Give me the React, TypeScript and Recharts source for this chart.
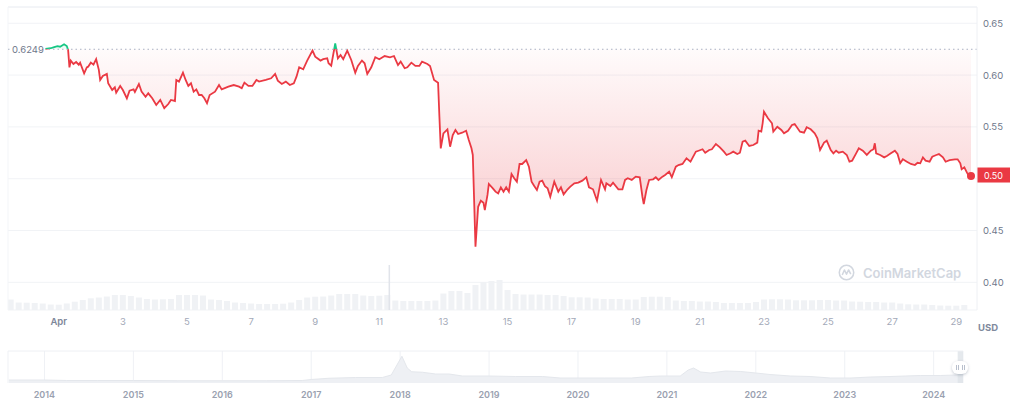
import React from 'react';
import {
  ComposedChart,
  Area,
  Bar,
  XAxis,
  YAxis,
  CartesianGrid,
  ReferenceLine,
  ReferenceDot,
  ReferenceArea,
} from 'recharts';

const RED = '#ea3943';
const GREEN = '#16c784';

// price at the start of the window (dotted baseline)
const openPrice = 0.6249;

// main chart: x is hours since Apr 1 00:00
const hourDomain: [number, number] = [-38, 687.5];
const priceDomain: [number, number] = [0.3733, 0.6657];
const priceTicks = [0.4, 0.45, 0.5, 0.55, 0.6, 0.65];
const dayTicks = [0, 48, 96, 144, 192, 240, 288, 336, 384, 432, 480, 528, 576, 624, 672];
const dayLabels = ['Apr', '3', '5', '7', '9', '11', '13', '15', '17', '19', '21', '23', '25', '27', '29'];

// [hour, price]
const pricePoints: [number, number][] = [
  [-10, 0.6252], [-6, 0.6259], [-4, 0.6268], [-1, 0.628], [1, 0.6274], [4, 0.6297], [6, 0.628], [7, 0.6242],
  [8, 0.6075], [9, 0.614], [11, 0.6107], [13, 0.6126], [15, 0.61], [16, 0.612], [19, 0.6017], [21, 0.6075],
  [22, 0.6081], [24, 0.612], [26, 0.61], [28, 0.6153], [30, 0.605], [31, 0.5953], [33, 0.5991], [36, 0.6011],
  [37, 0.5921], [40, 0.5856], [42, 0.5882], [43, 0.583], [46, 0.5895], [48, 0.5856], [51, 0.5776], [53, 0.5849],
  [56, 0.5862], [57, 0.5837], [60, 0.5914], [62, 0.584], [65, 0.5791], [67, 0.5824], [70, 0.5776], [73, 0.5711],
  [76, 0.576], [79, 0.568], [82, 0.5721], [84, 0.576], [87, 0.575], [88, 0.5953], [90, 0.5937], [93, 0.6023],
  [95, 0.5953], [97, 0.5895], [99, 0.5921], [101, 0.584], [103, 0.5862], [105, 0.5808], [107, 0.5808], [109, 0.5776],
  [111, 0.5728], [113, 0.5808], [117, 0.584], [120, 0.5904], [122, 0.5862], [127, 0.5888], [131, 0.5904], [135, 0.5888],
  [137, 0.5873], [139, 0.5927], [142, 0.5895], [145, 0.5895], [148, 0.5953], [150, 0.5937], [155, 0.5953], [159, 0.5969],
  [162, 0.6011], [164, 0.5946], [167, 0.5914], [170, 0.5937], [173, 0.5904], [176, 0.5921], [178, 0.5985], [180, 0.6075],
  [183, 0.6056], [186, 0.614], [190, 0.6236], [192, 0.6178], [196, 0.614], [198, 0.6153], [201, 0.6162], [202, 0.6114],
  [204, 0.609], [207, 0.6305], [209, 0.6162], [211, 0.6194], [213, 0.6153], [216, 0.6236], [219, 0.6146], [222, 0.6023],
  [224, 0.6088], [227, 0.614], [229, 0.6114], [231, 0.6011], [234, 0.6075], [237, 0.6172], [240, 0.6153], [244, 0.6184],
  [248, 0.6172], [251, 0.6184], [254, 0.6097], [256, 0.613], [259, 0.6066], [261, 0.6075], [264, 0.612], [267, 0.6088],
  [270, 0.6088], [272, 0.613], [276, 0.6107], [278, 0.6088], [281, 0.5953], [284, 0.5927], [285, 0.5598], [286, 0.5293],
  [288, 0.5438], [291, 0.5477], [293, 0.5309], [295, 0.5422], [297, 0.547], [299, 0.5431], [302, 0.5444], [305, 0.5463],
  [307, 0.5374], [309, 0.5293], [310, 0.5229], [312, 0.4344], [314, 0.4729], [316, 0.4788], [318, 0.4768], [319, 0.4698],
  [321, 0.4843], [322, 0.4949], [325, 0.4907], [327, 0.4875], [329, 0.4859], [331, 0.4917], [333, 0.4875], [335, 0.4917],
  [337, 0.4875], [339, 0.5045], [341, 0.5004], [343, 0.4971], [345, 0.5142], [347, 0.5142], [350, 0.518], [352, 0.5116],
  [354, 0.4971], [356, 0.4929], [358, 0.4891], [360, 0.4971], [362, 0.4981], [364, 0.4929], [366, 0.4907], [368, 0.4826],
  [371, 0.4971], [374, 0.4875], [376, 0.4917], [378, 0.4849], [381, 0.4898], [383, 0.4923], [386, 0.4956], [389, 0.4962],
  [392, 0.4981], [395, 0.5014], [397, 0.4917], [400, 0.4898], [403, 0.4788], [406, 0.4988], [409, 0.4898], [410, 0.4956],
  [413, 0.4929], [415, 0.4962], [419, 0.4898], [422, 0.4898], [424, 0.4988], [426, 0.5004], [429, 0.4988], [432, 0.502],
  [435, 0.5014], [437, 0.4826], [438, 0.4756], [440, 0.4891], [442, 0.4988], [445, 0.4994], [447, 0.5014], [449, 0.4988],
  [452, 0.502], [454, 0.5036], [457, 0.5068], [459, 0.5014], [462, 0.5116], [464, 0.5132], [467, 0.5142], [470, 0.5197],
  [473, 0.5164], [477, 0.5261], [479, 0.527], [482, 0.5284], [484, 0.5251], [487, 0.5277], [489, 0.5284], [492, 0.5335],
  [495, 0.5303], [498, 0.5261], [500, 0.5229], [503, 0.5245], [505, 0.5261], [508, 0.5238], [510, 0.5251], [512, 0.5357],
  [514, 0.5367], [517, 0.5316], [520, 0.5325], [523, 0.5348], [524, 0.5463], [526, 0.5454], [527, 0.5535], [528, 0.5647],
  [531, 0.5583], [534, 0.5535], [535, 0.5454], [538, 0.5502], [541, 0.547], [543, 0.5438], [546, 0.5463], [549, 0.5518],
  [551, 0.5528], [555, 0.5454], [558, 0.5444], [560, 0.5496], [563, 0.5477], [566, 0.5438], [568, 0.539], [570, 0.5277],
  [573, 0.5348], [575, 0.5367], [578, 0.5277], [580, 0.5245], [582, 0.527], [584, 0.5251], [587, 0.5261], [590, 0.5229],
  [592, 0.5164], [594, 0.5174], [597, 0.5245], [599, 0.5293], [602, 0.527], [605, 0.5229], [608, 0.527], [610, 0.5284],
  [611, 0.5342], [612, 0.5245], [615, 0.5229], [618, 0.5206], [620, 0.5219], [623, 0.5245], [626, 0.527], [628, 0.5238],
  [630, 0.5149], [632, 0.5187], [635, 0.5164], [638, 0.5142], [641, 0.5132], [643, 0.5154], [645, 0.5149], [647, 0.5206],
  [649, 0.5174], [652, 0.5164], [654, 0.5212], [657, 0.5229], [659, 0.5238], [662, 0.5206], [664, 0.5164], [667, 0.518],
  [671, 0.5187], [673, 0.5187], [675, 0.5149], [676, 0.5091], [678, 0.511], [680, 0.5058], [681, 0.5036], [683, 0.5026],
];

// volume, one bar every 6 hours starting at hour -36 (relative units)
const volumeStartHour = -36;
const volumeStepHours = 6;
const volumeValues = [
  10.5, 7.5, 7.3, 7, 6.5, 5.5, 5.3, 6.5, 8.3, 10,
  11.7, 12.5, 13.5, 15, 15, 14, 12.5, 11, 10.5, 10.7,
  11, 15, 15, 15, 14.5, 10.5, 10, 9, 7.5, 7,
  6.5, 6, 6, 6, 6.3, 7.5, 10, 12.5, 13.3, 13.5,
  14.5, 16, 16, 16, 14.5, 14, 14.3, 15, 9.5, 9,
  9, 9, 9, 9.5, 16.5, 19, 19, 17, 25, 28,
  29, 30, 20, 16, 15.5, 15.5, 15.5, 15, 15, 14,
  12.7, 12.7, 12.5, 11.5, 11, 11, 11, 10.5, 10.5, 13,
  13.3, 13.3, 13, 9.5, 9, 9, 8.5, 8.5, 8, 7,
  7, 7, 7, 8, 10.5, 10.7, 10.7, 10.5, 9.7, 9.7,
  9.7, 10, 10, 9.5, 9.5, 8.5, 8.3, 8, 8, 7.5,
  7.5, 6.5, 5.7, 5.5, 5.5, 5, 4.5, 4.3, 4.3, 5,
];
const volumeSpike: [number, number] = [247.5, 45];
const volumeDomain: [number, number] = [0, 303];

// navigator: full history [year, price]
const historyPoints: [number, number][] = [
  [2013.6, 0.12], [2014.0, 0.12], [2014.25, 0.1], [2014.6, 0.1], [2015.0, 0.1], [2015.5, 0.09], [2016.0, 0.09],
  [2016.5, 0.09], [2016.9, 0.1], [2017.0, 0.14], [2017.2, 0.19], [2017.5, 0.22], [2017.8, 0.22], [2017.9, 0.32],
  [2018.02, 1.07], [2018.08, 0.6], [2018.13, 0.45], [2018.25, 0.43], [2018.4, 0.36], [2018.55, 0.36], [2018.7, 0.28],
  [2019.0, 0.28], [2019.3, 0.26], [2019.6, 0.26], [2019.8, 0.2], [2020.0, 0.2], [2020.3, 0.2], [2020.6, 0.2],
  [2020.8, 0.26], [2020.93, 0.28], [2021.15, 0.28], [2021.24, 0.52], [2021.3, 0.6], [2021.38, 0.44], [2021.49, 0.4],
  [2021.66, 0.48], [2021.83, 0.46], [2022.0, 0.4], [2022.16, 0.34], [2022.39, 0.28], [2022.61, 0.26], [2022.84, 0.2],
  [2023.07, 0.2], [2023.29, 0.24], [2023.52, 0.26], [2023.68, 0.28], [2023.85, 0.3], [2024.08, 0.3], [2024.25, 0.32],
  [2024.33, 0.32],
];
const yearDomain: [number, number] = [2013.59, 2024.33];
const yearTicks = [2014, 2015, 2016, 2017, 2018, 2019, 2020, 2021, 2022, 2023, 2024];
const historyDomain: [number, number] = [0, 1.28];
const selectedRange: [number, number] = [2024.27, 2024.33];

const priceRows = pricePoints.map(([hour, price]) => ({ hour, price }));
const volumeRows = volumeValues.map((volume, i) => ({ hour: volumeStartHour + i * volumeStepHours, volume }));
const historyRows = historyPoints.map(([year, value]) => ({ year, value }));

const last = pricePoints[pricePoints.length - 1];
const maxP = Math.max(...pricePoints.map((p) => p[1]));
const minP = Math.min(...pricePoints.map((p) => p[1]));
const split = (maxP - openPrice) / (maxP - minP);

const FONT = 'Inter, "Noto Sans", sans-serif';

const PriceTick = (props: any) => {
  const { x, y, payload } = props;
  if (Math.abs(payload.value - 0.5) < 1e-6) return <g />;
  return (
    <text x={x} y={y} dy={3.5} textAnchor="start" fill="#6f788b" fontSize={9.5} fontFamily={FONT}>
      {payload.value.toFixed(2)}
    </text>
  );
};

const DayTick = (props: any) => {
  const { x, y, payload } = props;
  const label = dayLabels[dayTicks.indexOf(payload.value)];
  const isMonth = label === 'Apr';
  return (
    <text
      x={x}
      y={y}
      dy={9}
      textAnchor="middle"
      fill={isMonth ? '#7d8699' : '#a3a9b8'}
      fontWeight={isMonth ? 600 : 400}
      fontSize={9.5}
      fontFamily={FONT}
    >
      {label}
    </text>
  );
};

const YearTick = (props: any) => {
  const { x, y, payload } = props;
  return (
    <text x={x} y={y} dy={9} textAnchor="middle" fill="#9aa1b0" fontWeight={600} fontSize={9} fontFamily={FONT}>
      {payload.value}
    </text>
  );
};

const OpenLabel = (props: any) => {
  const { viewBox } = props;
  return (
    <g>
      <rect x={viewBox.x + 2} y={viewBox.y - 7} width={35} height={14} fill="#fff" />
      <text x={viewBox.x + 4} y={viewBox.y + 3.5} fill="#6f788b" fontSize={9.5} fontFamily={FONT}>
        {openPrice.toFixed(4)}
      </text>
    </g>
  );
};

const EndLabel = (props: any) => {
  const { viewBox } = props;
  const x = viewBox.x + viewBox.width;
  return (
    <g>
      <rect x={x} y={viewBox.y - 8.5} width={33} height={15} fill={RED} />
      <text x={x + 16.5} y={viewBox.y + 2.5} textAnchor="middle" fill="#fff" fontSize={9} fontFamily={FONT}>
        {last[1].toFixed(2)}
      </text>
    </g>
  );
};

const Watermark = () => (
  <div
    style={{
      position: 'absolute',
      left: 838,
      top: 264,
      display: 'flex',
      alignItems: 'center',
      gap: 8,
      color: '#d2d7df',
      fontFamily: FONT,
      fontWeight: 600,
      fontSize: 13,
      pointerEvents: 'none',
    }}
  >
    <svg width={17} height={17} viewBox="0 0 20 20">
      <circle cx={10} cy={10} r={8.5} fill="none" stroke="#d2d7df" strokeWidth={1.8} />
      <path d="M5 13 L7.5 7 L10 12 L12.5 7 L15 12" fill="none" stroke="#d2d7df" strokeWidth={1.8} strokeLinejoin="round" />
    </svg>
    <span>CoinMarketCap</span>
  </div>
);

const Handle = () => (
  <div
    style={{
      position: 'absolute',
      left: 952,
      top: 361,
      width: 16,
      height: 13,
      borderRadius: 6,
      background: '#fff',
      boxShadow: '0 1px 3px rgba(88,102,126,0.35)',
      display: 'flex',
      alignItems: 'center',
      justifyContent: 'center',
      gap: 3,
    }}
  >
    {[0, 1].map((g) => (
      <div key={g} style={{ display: 'flex', gap: 1 }}>
        <div style={{ width: 1, height: 5, background: '#b8bfcc' }} />
        <div style={{ width: 1, height: 5, background: '#b8bfcc' }} />
      </div>
    ))}
  </div>
);

export default function App() {
  return (
    <div style={{ position: 'relative', width: 1024, height: 417, background: '#fff', fontFamily: FONT }}>
      <style>{`body{margin:0}`}</style>
      <ComposedChart width={1024} height={340} data={volumeRows} margin={{ top: 7, right: 0, bottom: 0, left: 8 }}>
        <defs>
          <linearGradient id="priceStroke" x1="0" y1="0" x2="0" y2="1">
            <stop offset={0} stopColor={GREEN} />
            <stop offset={split} stopColor={GREEN} />
            <stop offset={split} stopColor={RED} />
            <stop offset={1} stopColor={RED} />
          </linearGradient>
          <linearGradient id="priceFill" x1="0" y1="0" x2="0" y2="1">
            <stop offset={0} stopColor={GREEN} stopOpacity={0.12} />
            <stop offset={split} stopColor={GREEN} stopOpacity={0.05} />
            <stop offset={split} stopColor={RED} stopOpacity={0.02} />
            <stop offset={1} stopColor={RED} stopOpacity={0.28} />
          </linearGradient>
        </defs>
        <CartesianGrid yAxisId="price" xAxisId="vol" vertical={false} stroke="#f1f3f6" />
        <XAxis xAxisId="price" dataKey="hour" type="number" domain={hourDomain} allowDataOverflow hide height={0} />
        <XAxis
          xAxisId="vol"
          dataKey="hour"
          type="number"
          domain={hourDomain}
          ticks={dayTicks}
          allowDataOverflow
          height={30}
          axisLine={false}
          tickLine={false}
          tickSize={0}
          tickMargin={6}
          tick={DayTick}
          interval={0}
        />
        <YAxis
          yAxisId="price"
          orientation="right"
          width={47}
          domain={priceDomain}
          ticks={priceTicks}
          allowDataOverflow
          axisLine={{ stroke: '#eef0f4' }}
          tickLine={false}
          tickSize={0}
          tickMargin={6}
          tick={PriceTick}
          interval={0}
        />
        <YAxis yAxisId="vol" hide domain={volumeDomain} />
        <ReferenceLine xAxisId="price" yAxisId="price" y={priceDomain[1]} stroke="#eef0f4" />
        <ReferenceLine xAxisId="price" yAxisId="price" x={hourDomain[0]} stroke="#f3f5f8" />
        <Bar xAxisId="vol" yAxisId="vol" dataKey="volume" barSize={6} fill="#f0f2f5" isAnimationActive={false} />
        <ReferenceLine
          xAxisId="vol"
          yAxisId="vol"
          segment={[
            { x: volumeSpike[0], y: 0 },
            { x: volumeSpike[0], y: volumeSpike[1] },
          ]}
          stroke="#e1e4ea"
          strokeWidth={1.5}
        />
        <Area
          xAxisId="price"
          yAxisId="price"
          data={priceRows}
          dataKey="price"
          type="linear"
          baseValue={openPrice}
          stroke="url(#priceStroke)"
          strokeWidth={1.8}
          fill="url(#priceFill)"
          fillOpacity={1}
          dot={false}
          activeDot={false}
          isAnimationActive={false}
        />
        <ReferenceLine
          xAxisId="price"
          yAxisId="price"
          y={openPrice}
          stroke="#a9b2c4"
          strokeDasharray="1.5 3"
          label={OpenLabel}
        />
        <ReferenceDot xAxisId="price" yAxisId="price" x={last[0]} y={last[1]} r={4} fill={RED} stroke="none" />
        <ReferenceLine xAxisId="price" yAxisId="price" y={last[1]} stroke="none" label={EndLabel} />
      </ComposedChart>

      <div
        style={{
          position: 'absolute',
          left: 978,
          top: 322,
          width: 22,
          fontSize: 9.5,
          fontWeight: 700,
          color: '#808a9d',
          fontFamily: FONT,
        }}
      >
        USD
      </div>

      <Watermark />

      <div style={{ position: 'absolute', left: 0, top: 340 }}>
        <ComposedChart width={1024} height={77} data={historyRows} margin={{ top: 11, right: 61, bottom: 0, left: 8 }}>
          <CartesianGrid horizontal={false} stroke="#eff1f5" />
          <XAxis
            dataKey="year"
            type="number"
            domain={yearDomain}
            ticks={yearTicks}
            allowDataOverflow
            height={34}
            axisLine={false}
            tickLine={false}
            tickSize={0}
            tickMargin={6}
            tick={YearTick}
            interval={0}
          />
          <YAxis hide domain={historyDomain} allowDataOverflow />
          <ReferenceLine y={historyDomain[1]} stroke="#eef0f4" />
          <Area
            dataKey="value"
            type="linear"
            stroke="#e4e7ec"
            strokeWidth={1}
            fill="#eef0f4"
            fillOpacity={1}
            dot={false}
            activeDot={false}
            isAnimationActive={false}
          />
          <ReferenceArea
            x1={selectedRange[0]}
            x2={selectedRange[1]}
            y1={historyDomain[0]}
            y2={historyDomain[1]}
            fill="#dfe3e9"
            fillOpacity={0.8}
            stroke="none"
          />
        </ComposedChart>
      </div>

      <Handle />
    </div>
  );
}
